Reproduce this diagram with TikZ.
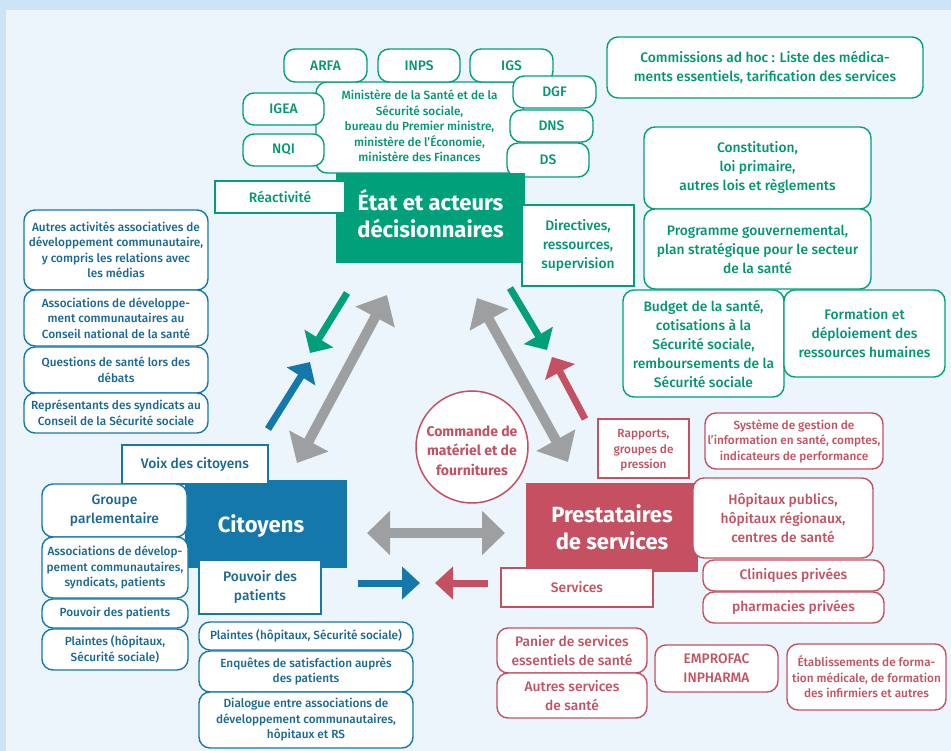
\documentclass[tikz,border=0pt]{standalone}
\usepackage{fontspec}
\setmainfont{Fira Sans}[UprightFont=* Medium, BoldFont=* Bold]
\usetikzlibrary{arrows.meta}

\definecolor{gr}{RGB}{0,160,122}
\definecolor{grtext}{RGB}{0,150,114}
\definecolor{bl}{RGB}{20,121,170}
\definecolor{bltext}{RGB}{24,104,146}
\definecolor{rd}{RGB}{196,80,97}
\definecolor{gy}{RGB}{157,159,161}
\definecolor{outerbg}{RGB}{204,228,245}
\definecolor{innerbg}{RGB}{237,245,252}

\newcommand\smalltxt{\fontsize{11.8}{15.5}\selectfont}
\newcommand\midtxt{\fontsize{13.8}{19}\selectfont}
\newcommand\titletxt{\fontsize{22}{27}\selectfont\bfseries}
\newcommand\circtxt{\fontsize{14}{19.5}\selectfont\bfseries}
% a centred block of lines, raised or lowered by #1
\newcommand\liftlines[2]{\raisebox{#1}{\begin{tabular}{@{}c@{}}#2\end{tabular}}}
% a centred block of lines set on a box of no size, so that #1 moves it freely
\newcommand\floatlines[2]{\raisebox{#1}[0pt][0pt]{\begin{tabular}{@{}c@{}}#2\end{tabular}}}

\tikzset{
  rbx/.style={draw=#1, fill=white, rounded corners=11pt, line width=1.4pt,
              align=center, inner sep=0pt},
  sqb/.style={draw=#1, fill=white, line width=2.6pt, align=center, inner sep=0pt},
  gbox/.style={rbx=gr, text=grtext},
  gsq/.style={sqb=gr, text=grtext},
  bbox/.style={rbx=bl, text=bltext},
  bsq/.style={sqb=bl, text=bltext},
  rbox/.style={rbx=rd, text=rd},
  rsq/.style={sqb=rd, text=rd},
  core/.style={fill=#1, inner sep=0pt, align=center, text=white, font=\titletxt},
  sm/.style={font=\smalltxt},
  md/.style={font=\midtxt},
  dim/.style 2 args={minimum width=#1pt, minimum height=#2pt},
  bigtwo/.style={line width=10pt, draw=gy,
    {Triangle[length=25pt,width=43pt]}-{Triangle[length=25pt,width=43pt]}},
  flow/.style={line width=7pt, draw=#1, -{Triangle[length=17pt,width=33pt]}},
}

\begin{document}
\begin{tikzpicture}[x=1pt,y=-1pt]
% page and panel
\fill[outerbg] (0,0) rectangle (951,751);
\fill[innerbg] (6,10) rectangle (951,751);
\useasboundingbox (0,0) rectangle (951,751);

% ---------------- arrow end points ----------------
\coordinate (gLtop) at (387,295);  \coordinate (gLbot) at (297,463);
\coordinate (gRtop) at (477,298);  \coordinate (gRbot) at (568,462);
\coordinate (gHl)   at (367,533);  \coordinate (gHr)   at (505,533);
\coordinate (grLa)  at (347,293);  \coordinate (grLb)  at (310,353);
\coordinate (blLa)  at (268,429);  \coordinate (blLb)  at (310,362);
\coordinate (grRa)  at (510,288);  \coordinate (grRb)  at (547,350);
\coordinate (rdRa)  at (585,419);  \coordinate (rdRb)  at (552,357);
\coordinate (blHa)  at (358,583);  \coordinate (blHb)  at (420,583);
\coordinate (rdHa)  at (488,583);  \coordinate (rdHb)  at (435,583);

\draw[bigtwo] (gLtop) -- (gLbot);
\draw[bigtwo] (gRtop) -- (gRbot);
\draw[bigtwo,{Triangle[length=23pt,width=43pt]}-{Triangle[length=23pt,width=43pt]}] (gHl) -- (gHr);
\draw[flow=gr] (grLa) -- (grLb);
\draw[flow=bl] (blLa) -- (blLb);
\draw[flow=gr] (grRa) -- (grRb);
\draw[flow=rd] (rdRa) -- (rdRb);
\draw[flow=bl,-{Triangle[length=18pt,width=32pt]}] (blHa) -- (blHb);
\draw[flow=rd,-{Triangle[length=18pt,width=32pt]}] (rdHa) -- (rdHb);

% ---------------- State and decision makers ----------------
\node[gbox,sm,dim={207}{91}] (min) at (419.5,127.5)
  {\liftlines{1.5pt}{Ministère de la Santé et de la\\Sécurité sociale,\\bureau du Premier ministre,\\ministère de l’Économie,\\ministère des Finances}};
\node[gbox,md,dim={83}{33}] (arfa) at (325.5,65.5) {ARFA};
\node[gbox,md,dim={82}{33}] (inps) at (419,65.5) {INPS};
\node[gbox,md,dim={83}{33}] (igs) at (511.5,65.5) {IGS};
\node[gbox,md,dim={81}{32}] (igea) at (283.5,109) {IGEA};
\node[gbox,md,dim={81}{32}] (nqi) at (283.5,150) {NQI};
\node[gbox,md,dim={83}{32}] (dgf) at (554.5,92) {DGF};
\node[gbox,md,dim={83}{32}] (dns) at (551.5,126) {DNS};
\node[gbox,md,dim={82}{34}] (ds) at (548,160) {DS};
\node[core=gr,dim={189}{90}] (etat) at (430.5,218) {\liftlines{5pt}{État et acteurs\\décisionnaires}};
\node[gsq,md,dim={130}{32}] (reac) at (280,197) {Réactivité};
\node[gsq,md,dim={112}{81}] (dir) at (578,245.5) {Directives,\\ressources,\\supervision};

\node[gbox,md,dim={316}{61}] (comm) at (765,67.5)
  {Commissions ad hoc : Liste des médica-\\ments essentiels, tarification des services};
\node[gbox,md,dim={227}{82}] (const) at (757.5,168) {Constitution,\\loi primaire,\\autres lois et règlements};
\node[gbox,md,dim={227}{80}] (prog) at (757.5,249)
  {Programme gouvernemental,\\plan stratégique pour le secteur\\de la santé};
\node[gbox,md,dim={161}{107}] (budget) at (703.5,343.5)
  {Budget de la santé,\\cotisations à la\\Sécurité sociale,\\remboursements de la\\Sécurité sociale};
\node[gbox,md,dim={161}{87}] (form) at (864.5,333.5)
  {Formation et\\déploiement des\\ressources humaines};

% ---------------- Citizens ----------------
\node[bbox,sm,dim={184}{80}] (autres) at (116,250)
  {Autres activités associatives de\\développement communautaire,\\y compris les relations avec\\les médias};
\node[bbox,sm,dim={184}{56}] (assocA) at (116,318)
  {Associations de développe-\\ment communautaires au\\Conseil national de la santé};
\node[bbox,sm,dim={184}{46}] (quest) at (116,370) {Questions de santé lors des\\débats};
\node[bbox,sm,dim={184}{40}] (repr) at (116,413)
  {Représentants des syndicats au\\Conseil de la Sécurité sociale};

\node[core=bl,dim={162}{88},text depth=0pt] (cit) at (266,524) {\hspace*{-10pt}Citoyens};
\node[bsq,md,dim={146}{39}] (voix) at (195,464.5) {Voix des citoyens};
\node[bbox,md,dim={145}{53}] (groupe) at (114.5,510.5) {Groupe\\parlementaire};
\node[bbox,sm,dim={146}{61}] (assocB) at (115,567.5)
  {Associations de dévelop-\\pement communautaires,\\syndicats, patients};
\node[bbox,sm,dim={146}{29}] (pouvA) at (115,613.5) {Pouvoir des patients};
\node[bbox,sm,dim={146}{41}] (plaintA) at (115,649.5) {Plaintes (hôpitaux,\\Sécurité sociale)};
\node[bsq,md,dim={122}{54}] (pouvB) at (260,587) {Pouvoir des\\patients};
\node[bbox,sm,dim={214}{28}] (plaintB) at (306,636) {Plaintes (hôpitaux, Sécurité sociale)};
\node[bbox,sm,dim={214}{41}] (enq) at (306,671.5) {Enquêtes de satisfaction auprès\\des patients};
\node[bbox,sm,dim={214}{56}] (dial) at (306,720)
  {Dialogue entre associations de\\développement communautaires,\\hôpitaux et RS};

% ---------------- Service providers ----------------
\node[circle,draw=rd,fill=white,line width=1.5pt,minimum size=112pt,inner sep=0pt,
      align=center,text=rd,font=\circtxt] (cmd) at (472,447)
  {\floatlines{-8.6pt}{Commande de\\matériel et de\\fournitures}};
\node[rsq,sm,dim={91}{59}] (rapp) at (643.5,448.5) {\floatlines{-4.6pt}{Rapports,\\groupes de\\pression}};
\node[rbox,sm,dim={178}{56}] (sys) at (794,441)
  {Système de gestion de\\l’information en santé, comptes,\\indicateurs de performance};
\node[core=rd,dim={172}{89}] (prest) at (612,527.5) {Prestataires\\de services};
\node[rbox,md,dim={180}{80}] (hop) at (783,518)
  {Hôpitaux publics,\\hôpitaux régionaux,\\centres de santé};
\node[rbox,md,dim={181}{31}] (clin) at (793.5,575.5) {Cliniques privées};
\node[rbox,md,dim={181}{31}] (pharm) at (793.5,607.5) {pharmacies privées};
\node[rsq,md,dim={152}{39}] (serv) at (577,587.5) {Services};
\node[rbox,md,dim={150}{45}] (panier) at (572,650.5) {Panier de services\\essentiels de santé};
\node[rbox,md,dim={150}{45}] (autsv) at (572,695.5) {Autres services\\de santé};
\node[rbox,md,dim={123}{47}] (empro) at (716.5,668.5) {EMPROFAC\\INPHARMA};
\node[rbox,sm,dim={159}{66}] (etab) at (866.5,677)
  {Établissements de forma-\\tion médicale, de formation\\des infirmiers et autres};
\end{tikzpicture}
\end{document}
